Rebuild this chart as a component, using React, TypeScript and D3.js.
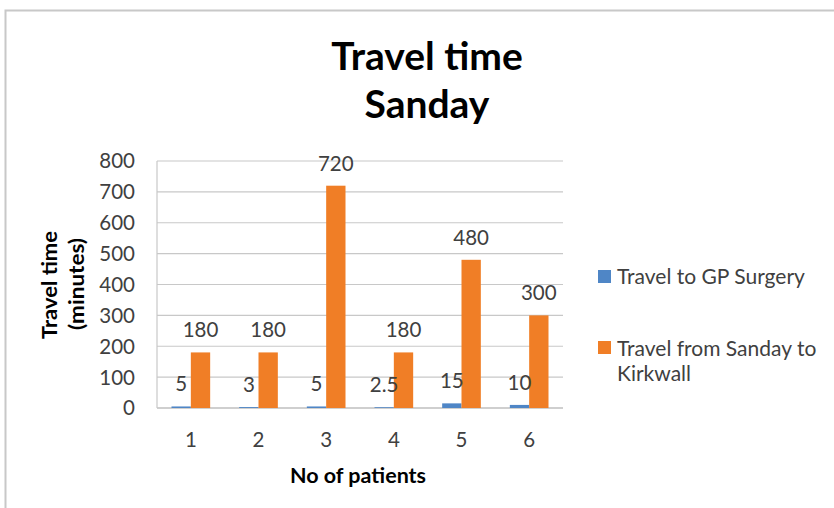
import { scaleBand, scaleLinear, range } from "d3";

const categories = ["1", "2", "3", "4", "5", "6"];
const seriesNames = ["Travel to GP Surgery", "Travel from Sanday to Kirkwall"];
const gpSurgery = [5, 3, 5, 2.5, 15, 10];
const sandayToKirkwall = [180, 180, 720, 180, 480, 300];
const gpLabels = ["5", "3", "5", "2.5", "15", "10"];
const kirkwallLabels = ["180", "180", "720", "180", "480", "300"];
const yTicks = range(0, 801, 100);

const colors = ["#4f86c6", "#f07e26"];
const font = "Lato, 'Open Sans', sans-serif";
const textColor = "#404040";

export default function App() {
    const plot = { left: 157, right: 563, top: 161, bottom: 408 };

    const scaleX = scaleBand<string>()
        .domain(categories)
        .range([plot.left, plot.right])
        .padding(0);
    const scaleSeries = scaleBand<number>()
        .domain([0, 1])
        .range([0, scaleX.bandwidth()])
        .paddingInner(0)
        .paddingOuter(0.75);
    const scaleY = scaleLinear().domain([0, 800]).range([plot.bottom, plot.top]);

    const series = [
        { values: gpSurgery, labels: gpLabels },
        { values: sandayToKirkwall, labels: kirkwallLabels },
    ];

    return (
        <svg
            width={834}
            height={508}
            style={{ position: "absolute", left: 0, top: 0, background: "#fff" }}
            fontFamily={font}
        >
            <rect x={5.5} y={10.5} width={840} height={510} fill="#fff" stroke="#c8c8c8" strokeWidth={2} />

            {/* title */}
            <text x={427} y={70} textAnchor="middle" fontSize={39} fontWeight="bold" fill="#000">
                Travel time
            </text>
            <text x={427} y={118} textAnchor="middle" fontSize={39} fontWeight="bold" fill="#000">
                Sanday
            </text>

            {/* gridlines */}
            {yTicks.map((t) => (
                <line
                    key={`grid-${t}`}
                    x1={plot.left}
                    x2={plot.right}
                    y1={scaleY(t)}
                    y2={scaleY(t)}
                    stroke={t === 0 ? "#a0a0a0" : "#c8c8c8"}
                    strokeWidth={1.2}
                />
            ))}
            <line x1={plot.left} x2={plot.left} y1={plot.top} y2={plot.bottom} stroke="#c8c8c8" strokeWidth={1.2} />

            {/* y tick labels */}
            {yTicks.map((t) => (
                <text
                    key={`ytick-${t}`}
                    x={135}
                    y={scaleY(t)}
                    dy="0.36em"
                    textAnchor="end"
                    fontSize={20.5}
                    fill={textColor}
                >
                    {t}
                </text>
            ))}

            {/* x tick labels */}
            {categories.map((c) => (
                <text
                    key={`xtick-${c}`}
                    x={(scaleX(c) ?? 0) + scaleX.bandwidth() / 2}
                    y={447}
                    textAnchor="middle"
                    fontSize={20.5}
                    fill={textColor}
                >
                    {c}
                </text>
            ))}

            {/* bars */}
            {series.map((s, si) =>
                s.values.map((v, i) => (
                    <rect
                        key={`bar-${si}-${i}`}
                        x={(scaleX(categories[i]) ?? 0) + (scaleSeries(si) ?? 0)}
                        y={scaleY(v)}
                        width={scaleSeries.bandwidth()}
                        height={plot.bottom - scaleY(v)}
                        fill={colors[si]}
                    />
                ))
            )}

            {/* data labels */}
            {series.map((s, si) =>
                s.values.map((v, i) => (
                    <text
                        key={`label-${si}-${i}`}
                        x={(scaleX(categories[i]) ?? 0) + (scaleSeries(si) ?? 0) + scaleSeries.bandwidth() / 2}
                        y={scaleY(v) - 15}
                        textAnchor="middle"
                        fontSize={20.5}
                        fill={textColor}
                    >
                        {s.labels[i]}
                    </text>
                ))
            )}

            {/* axis titles */}
            <text
                transform="translate(57, 285) rotate(-90)"
                textAnchor="middle"
                fontSize={20}
                fontWeight="bold"
                fill="#000"
                textLength={108}
                lengthAdjust="spacingAndGlyphs"
            >
                Travel time
            </text>
            <text
                transform="translate(84, 284) rotate(-90)"
                textAnchor="middle"
                fontSize={20}
                fontWeight="bold"
                fill="#000"
                textLength={92}
                lengthAdjust="spacingAndGlyphs"
            >
                (minutes)
            </text>
            <text x={358} y={483} textAnchor="middle" fontSize={21.5} fontWeight="bold" fill="#000">
                No of patients
            </text>

            {/* legend */}
            <rect x={598} y={270} width={13} height={13} fill={colors[0]} />
            <text x={617} y={284} fontSize={21} fill={textColor}>
                {seriesNames[0]}
            </text>
            <rect x={598} y={341} width={13} height={13} fill={colors[1]} />
            <text x={617} y={356} fontSize={21} fill={textColor}>
                Travel from Sanday to
            </text>
            <text x={617} y={381} fontSize={21} fill={textColor}>
                Kirkwall
            </text>
        </svg>
    );
}
